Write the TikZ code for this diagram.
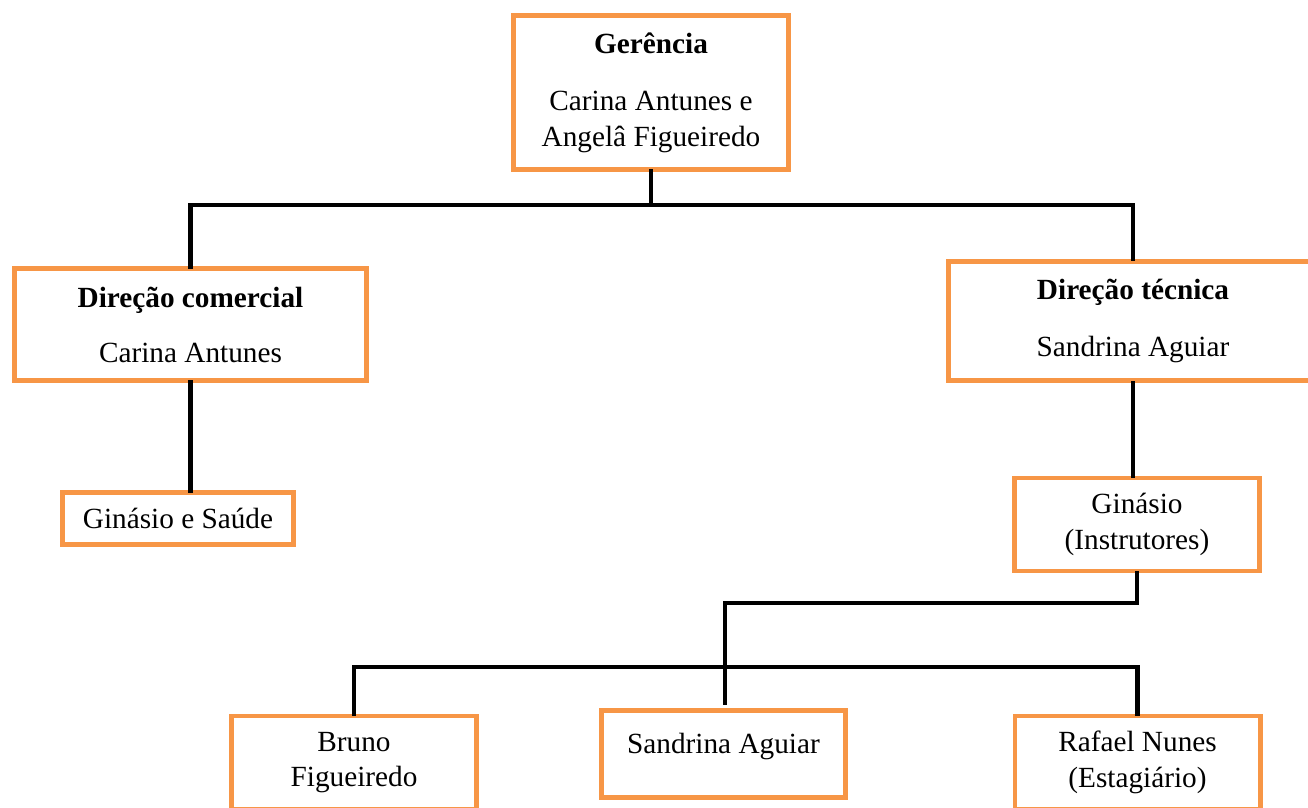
\documentclass[tikz,border=0pt]{standalone}
\usepackage{fontspec}
\setmainfont{Liberation Serif}
\usepackage{tikz}
\definecolor{boxorange}{HTML}{F79646}

\begin{document}
\begin{tikzpicture}[
		x=0.41pt,
		y=-0.41pt,
		box/.style={draw=boxorange, line width=2pt, fill=white, align=center,
			font=\fontsize{12pt}{14.5pt}\selectfont, inner sep=3pt},
		conn/.style={draw=black, line width=2pt, line cap=rect},
	]
		\useasboundingbox (0, 0) rectangle (1308, 807);

		% boxes
		\node[box, minimum width=112.8pt, minimum height=63.1pt] (ger) at (651, 92.5)
			{\textbf{Gerência}\\[9pt]Carina Antunes e\\Angelâ Figueiredo};
		\node[box, minimum width=144.3pt, minimum height=45.9pt] (dcom) at (190.5, 324.5)
			{\textbf{Direção comercial}\\[8pt]Carina Antunes};
		\node[box, minimum width=94.7pt, minimum height=21.3pt] (gsaude) at (178, 518.5)
			{Ginásio e Saúde};
		\node[box, minimum width=151.3pt, minimum height=48.8pt] (dtec) at (1133, 321)
			{\textbf{Direção técnica}\\[9pt]Sandrina Aguiar};
		\node[box, minimum width=100.5pt, minimum height=38.1pt] (ginst) at (1137, 524.5)
			{Ginásio\\(Instrutores)};
		\node[box, minimum width=100.5pt, minimum height=38.1pt] (bruno) at (354, 762.5)
			{Bruno\\Figueiredo};
		\node[box, minimum width=100pt, minimum height=35.7pt, text depth=8.5pt] (sandrina) at (723.5, 754)
			{Sandrina Aguiar};
		\node[box, minimum width=100.5pt, minimum height=38.1pt] (rafael) at (1137.5, 762.5)
			{Rafael Nunes\\(Estagiário)};

		% bus points
		\coordinate (topbus) at (651, 205);
		\coordinate (midbus) at (725, 603);
		\coordinate (lowbus) at (725, 667);
		\coordinate (sandend) at (725, 703);

		% connections
		\draw[conn] (ger.south) -- (topbus) -| (dcom.north);
		\draw[conn] (topbus) -| (dtec.north);
		\draw[conn] (dcom.south) -- (dcom.south |- gsaude.north);
		\draw[conn] (dtec.south) -- (dtec.south |- ginst.north);
		\draw[conn] (ginst.south) |- (midbus) -- (sandend);
		\draw[conn] (lowbus) -| (bruno.north);
		\draw[conn] (lowbus) -| (rafael.north);
	\end{tikzpicture}
\end{document}
